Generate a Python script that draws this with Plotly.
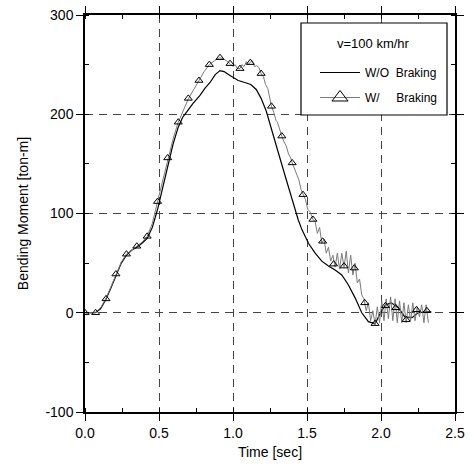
import plotly.graph_objects as go

# ---- data ----
wo_t = [0, 0.07, 0.105, 0.14, 0.175, 0.21, 0.245, 0.28, 0.315, 0.35, 0.385, 0.42, 0.455, 0.49,
        0.525, 0.56, 0.595, 0.63, 0.66, 0.69, 0.73, 0.777, 0.81, 0.845, 0.88, 0.912, 0.94, 0.98,
        1.035, 1.08, 1.12, 1.157, 1.19, 1.225, 1.26, 1.305, 1.35, 1.395, 1.44, 1.465, 1.51, 1.555,
        1.60, 1.645, 1.69, 1.735, 1.78, 1.825, 1.87, 1.915, 1.96, 1.99, 2.03, 2.07, 2.117, 2.16,
        2.21, 2.25, 2.30, 2.34]
wo_y = [0, 0, 4, 13, 25, 38, 50, 58, 63, 66, 70, 75, 86, 104,
        126, 148, 170, 187, 197, 203, 211, 219, 226, 232, 240, 244, 243, 239,
        234, 232, 230, 225, 216, 203, 186, 162, 139, 116, 94, 84, 70, 60,
        52, 47, 43, 38, 28, 15, 0, -9, -11, -2, 8, 10, 5, -4,
        -5, 0, 1, 1]

w_t = [0, 0.035, 0.07, 0.105, 0.14, 0.175, 0.21, 0.245, 0.28, 0.315, 0.35, 0.385, 0.42, 0.455,
       0.49, 0.525, 0.56, 0.595, 0.63, 0.665, 0.70, 0.735, 0.77, 0.805, 0.84, 0.875, 0.91, 0.945,
       0.98, 1.00, 1.015, 1.03, 1.047, 1.06, 1.075, 1.09, 1.10, 1.117, 1.13, 1.145, 1.16, 1.175,
       1.19, 1.205, 1.22, 1.235, 1.25, 1.26, 1.275, 1.29, 1.30, 1.315, 1.33, 1.345, 1.36, 1.375,
       1.39, 1.40, 1.415, 1.43, 1.445, 1.46, 1.473, 1.49, 1.505, 1.52, 1.54, 1.555, 1.57, 1.585,
       1.60, 1.615, 1.63, 1.645, 1.66, 1.675, 1.69, 1.705, 1.72, 1.735, 1.75, 1.765, 1.78, 1.795,
       1.81, 1.825, 1.84, 1.855, 1.87, 1.885, 1.90, 1.915, 1.93, 1.945, 1.96, 1.975, 1.99, 2.005,
       2.02, 2.035, 2.05, 2.065, 2.08, 2.095, 2.11, 2.125, 2.14, 2.155, 2.17, 2.185, 2.20, 2.215,
       2.23, 2.245, 2.26, 2.275, 2.29, 2.305, 2.32]
w_y = [0, 0, 0, 5, 14, 26, 39, 51, 59, 63, 67, 71, 77, 90,
       112, 134, 156, 175, 192, 205, 216, 225, 234, 243, 250, 254, 257, 255,
       251, 248, 250, 246, 246, 250, 248, 253, 250, 252, 254, 248, 249, 247,
       241, 238, 230, 226, 216, 208, 202, 194, 192, 184, 178, 172, 168, 160,
       156, 151, 145, 138, 134, 124, 119, 114, 104, 102, 94, 92, 80, 86,
       70, 74, 60, 66, 52, 58, 46, 60, 44, 60, 46, 62, 40, 58,
       38, 50, 30, 34, 18, 14, 2, 10, -8, 2, -12, 6, -10, 12,
       -8, 14, -6, 16, -8, 14, -10, 12, -10, 10, -10, 8, -8, 10,
       -8, 6, -4, 8, -10, 8, -10]

mk_t = [0, 0.072, 0.142, 0.209, 0.28, 0.35, 0.42, 0.49, 0.559, 0.63, 0.698, 0.77, 0.84, 0.912,
        0.98, 1.047, 1.117, 1.19, 1.26, 1.33, 1.40, 1.473, 1.54, 1.606, 1.68, 1.75, 1.82, 1.89,
        1.96, 2.03, 2.10, 2.17, 2.24, 2.31]
mk_y = [0, 0, 14, 39, 59, 67, 77, 112, 156, 192, 216, 234, 250, 257,
        251, 246, 252, 241, 208, 178, 151, 119, 94, 72, 49, 47, 45, 10,
        -11, 7, 5, -7, 3, 2]

x_ticks = [0.0, 0.5, 1.0, 1.5, 2.0, 2.5]
y_ticks = [-100, 0, 100, 200, 300]

FONT = "Liberation Sans, Arial, sans-serif"
GRAY = "#7a7a7a"

fig = go.Figure()
fig.add_trace(go.Scatter(x=wo_t, y=wo_y, mode="lines", name="W/O\u00a0\u00a0Braking",
                         line=dict(color="black", width=1.2), legendgroup="a"))
fig.add_trace(go.Scatter(x=w_t, y=w_y, mode="lines", showlegend=False,
                         line=dict(color=GRAY, width=1)))
fig.add_trace(go.Scatter(x=mk_t, y=mk_y, mode="markers", showlegend=False,
                         marker=dict(symbol="triangle-up-open", size=7, color="black",
                                     line=dict(width=1, color="black"))))
fig.add_trace(go.Scatter(x=[None], y=[None], mode="lines+markers",
                         name="W/\u00a0\u00a0\u00a0\u00a0\u00a0Braking", legendgroup="b",
                         line=dict(color=GRAY, width=1),
                         marker=dict(symbol="triangle-up-open", size=14, color="black",
                                     line=dict(width=1, color="black"))))

axis_common = dict(
    showline=True, linecolor="black", linewidth=1.5, mirror="ticks",
    ticks="outside", ticklen=7, tickwidth=1.2, tickcolor="black",
    showgrid=True, gridcolor="#444444", gridwidth=1.2, griddash="8px,6px",
    zeroline=False, automargin=False,
    tickfont=dict(family=FONT, size=14, color="black"),
)

fig.update_xaxes(range=[0, 2.5], tickvals=x_ticks, ticktext=[f"{v:.1f}" for v in x_ticks],
                 minor=dict(dtick=0.25, tick0=0, ticks="inside", ticklen=4, tickcolor="black", showgrid=False),
                 title=dict(text="Time [sec]", font=dict(family=FONT, size=14, color="black"), standoff=8),
                 **axis_common)
fig.update_yaxes(range=[-100, 300], tickvals=y_ticks, ticktext=[str(v) for v in y_ticks],
                 minor=dict(dtick=50, tick0=0, ticks="inside", ticklen=4, tickcolor="black", showgrid=False),
                 title=dict(text="Bending Moment [ton-m]", font=dict(family=FONT, size=14, color="black"), standoff=14),
                 **axis_common)

fig.add_shape(type="rect", xref="paper", yref="paper",
              x0=(301 - 85) / 370, x1=(447 - 85) / 370,
              y0=(412 - 115) / 397, y1=(412 - 23) / 397,
              line=dict(color="black", width=1.2), fillcolor="white", layer="above")
fig.add_annotation(text="v=100 km/hr", xref="paper", yref="paper",
                   x=(373 - 85) / 370, y=(412 - 44) / 397, showarrow=False,
                   xanchor="center", yanchor="middle",
                   font=dict(family=FONT, size=13, color="black"))

fig.update_layout(
    width=470, height=466,
    margin=dict(l=85, r=15, t=15, b=54),
    plot_bgcolor="white", paper_bgcolor="white",
    showlegend=True,
    legend=dict(x=(315 - 85) / 370, y=(412 - 58) / 397, xanchor="left", yanchor="top",
                bgcolor="rgba(0,0,0,0)", borderwidth=0, tracegroupgap=6,
                traceorder="grouped", itemwidth=40,
                font=dict(family=FONT, size=12, color="black")),
)

fig.write_html("out.html")
